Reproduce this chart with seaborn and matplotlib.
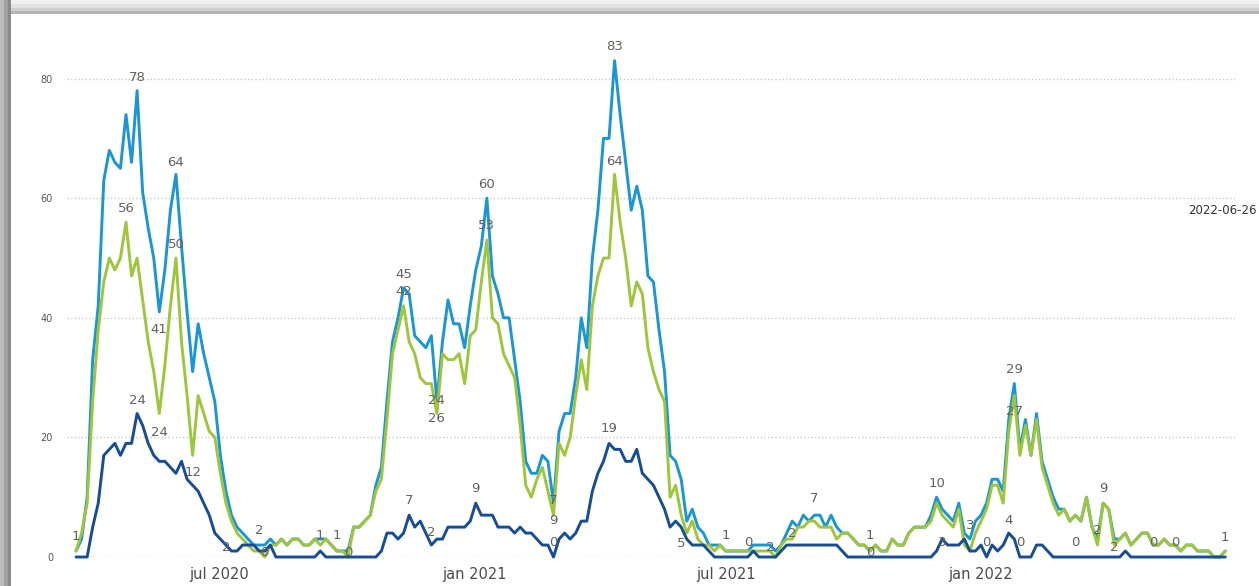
import pandas as pd
import matplotlib.pyplot as plt
import seaborn as sns
from matplotlib.patches import Rectangle

# one value every 4 days, 2020-03-20 .. 2022-06-26
START = "2020-03-20"
STEP = "4D"

LIGHT_BLUE = [
    1, 3, 10, 33, 42, 63, 68, 66, 65, 74,
    66, 78, 61, 55, 50, 41, 48, 58, 64, 52,
    41, 31, 39, 34, 30, 26, 17, 11, 7, 5,
    4, 3, 2, 2, 2, 3, 2, 3, 2, 3,
    3, 2, 2, 3, 3, 3, 2, 1, 1, 1,
    5, 5, 6, 7, 12, 15, 26, 36, 40, 45,
    44, 37, 36, 35, 37, 26, 36, 43, 39, 39,
    35, 42, 48, 52, 60, 47, 44, 40, 40, 33,
    26, 16, 14, 14, 17, 16, 9, 21, 24, 24,
    30, 40, 35, 50, 58, 70, 70, 83, 74, 66,
    58, 62, 58, 47, 46, 38, 31, 17, 16, 13,
    6, 8, 5, 4, 2, 2, 2, 1, 1, 1,
    1, 1, 2, 2, 2, 2, 1, 2, 4, 6,
    5, 7, 6, 7, 7, 5, 7, 5, 4, 4,
    3, 2, 2, 1, 2, 1, 1, 3, 2, 2,
    4, 5, 5, 5, 7, 10, 8, 7, 6, 9,
    4, 3, 6, 7, 9, 13, 13, 11, 23, 29,
    18, 23, 17, 24, 16, 13, 10, 8, 8, 6,
    7, 6, 10, 5, 3, 9, 8, 3, 3, 4,
    2, 3, 4, 4, 2, 2, 3, 2, 2, 1,
    2, 2, 1, 1, 1, 0, 0, 1,
]

GREEN = [
    1, 4, 9, 26, 38, 46, 50, 48, 50, 56,
    47, 50, 43, 36, 31, 24, 32, 42, 50, 36,
    27, 17, 27, 24, 21, 20, 14, 9, 6, 4,
    3, 2, 1, 1, 0, 2, 2, 3, 2, 3,
    3, 2, 2, 3, 2, 3, 2, 1, 1, 0,
    5, 5, 6, 7, 11, 13, 23, 34, 38, 42,
    36, 34, 30, 29, 29, 24, 34, 33, 33, 34,
    29, 37, 38, 46, 53, 40, 39, 34, 32, 30,
    22, 12, 10, 13, 15, 11, 7, 19, 17, 20,
    27, 33, 28, 42, 47, 50, 50, 64, 56, 50,
    42, 46, 44, 35, 31, 28, 26, 10, 12, 7,
    4, 6, 3, 2, 2, 1, 2, 1, 1, 1,
    1, 1, 1, 1, 1, 1, 0, 2, 3, 3,
    5, 5, 6, 6, 5, 5, 5, 3, 4, 4,
    3, 2, 2, 1, 2, 1, 1, 3, 2, 2,
    4, 5, 5, 5, 6, 9, 7, 6, 5, 8,
    2, 1, 4, 6, 8, 12, 12, 9, 21, 27,
    17, 22, 17, 23, 15, 12, 9, 7, 8, 6,
    7, 6, 10, 5, 2, 9, 8, 2, 3, 4,
    2, 3, 4, 4, 2, 2, 3, 2, 2, 1,
    2, 2, 1, 1, 1, 0, 0, 1,
]

DARK_BLUE = [
    0, 0, 0, 5, 9, 17, 18, 19, 17, 19,
    19, 24, 22, 19, 17, 16, 16, 15, 14, 16,
    13, 12, 11, 9, 7, 4, 3, 2, 1, 1,
    2, 2, 2, 1, 1, 2, 0, 0, 0, 0,
    0, 0, 0, 0, 1, 0, 0, 0, 0, 0,
    0, 0, 0, 0, 0, 1, 4, 4, 3, 4,
    7, 5, 6, 4, 2, 3, 3, 5, 5, 5,
    5, 6, 9, 7, 7, 7, 5, 5, 5, 4,
    5, 4, 4, 3, 2, 2, 0, 3, 4, 3,
    4, 6, 6, 11, 14, 16, 19, 18, 18, 16,
    16, 18, 14, 13, 12, 10, 8, 5, 6, 5,
    3, 2, 2, 2, 1, 0, 0, 0, 0, 0,
    0, 0, 1, 0, 0, 0, 0, 1, 2, 2,
    2, 2, 2, 2, 2, 2, 2, 2, 1, 0,
    0, 0, 0, 0, 0, 0, 0, 0, 0, 0,
    0, 0, 0, 0, 0, 1, 3, 2, 2, 2,
    3, 1, 1, 2, 0, 2, 1, 2, 4, 3,
    0, 0, 0, 2, 2, 1, 0, 0, 0, 0,
    0, 0, 0, 0, 0, 0, 0, 0, 0, 1,
    0, 0, 0, 0, 0, 0, 0, 0, 0, 0,
    0, 0, 0, 0, 0, 0, 0, 0,
]

SERIES = {"serie 1": LIGHT_BLUE, "serie 2": GREEN, "serie 3": DARK_BLUE}
CORES = {"serie 1": "#1A96D6", "serie 2": "#9DC63B", "serie 3": "#174C98"}

TICK_DATES = ["2020-07-01", "2021-01-01", "2021-07-01", "2022-01-01"]
TICK_LABELS = ["jul 2020", "jan 2021", "jul 2021", "jan 2022"]
LAST_DATE_TEXT = "2022-06-26"

# data labels: (series, point index, vertical offset in px)
LABELS = [
    ("serie 2", 0, 15), ("serie 1", 11, 13), ("serie 2", 9, 14), ("serie 1", 18, 12),
    ("serie 2", 18, 14), ("serie 1", 15, -18), ("serie 3", 11, 13), ("serie 2", 15, -19),
    ("serie 3", 21, 13), ("serie 1", 33, 15), ("serie 3", 27, -2), ("serie 2", 34, 4),
    ("serie 3", 44, 16), ("serie 2", 47, 16), ("serie 2", 49, 5), ("serie 1", 59, 13),
    ("serie 2", 59, 14), ("serie 3", 60, 15), ("serie 3", 64, 13), ("serie 2", 65, 13),
    ("serie 1", 65, -17), ("serie 1", 74, 14), ("serie 2", 74, 15), ("serie 3", 72, 15),
    ("serie 2", 86, 15), ("serie 1", 86, -17), ("serie 3", 86, 15), ("serie 3", 96, 15),
    ("serie 1", 97, 14), ("serie 2", 97, 13), ("serie 3", 109, -16), ("serie 2", 117, 16),
    ("serie 3", 121, 14), ("serie 1", 125, -2), ("serie 3", 129, 12), ("serie 1", 133, 17),
    ("serie 2", 143, 16), ("serie 3", 143, 5), ("serie 1", 155, 14), ("serie 3", 156, -3),
    ("serie 1", 161, 14), ("serie 3", 164, 15), ("serie 3", 168, 13), ("serie 1", 169, 14),
    ("serie 2", 169, -16), ("serie 3", 170, 15), ("serie 3", 180, 15), ("serie 2", 185, 15),
    ("serie 2", 184, 15), ("serie 2", 187, -2), ("serie 3", 194, 15), ("serie 3", 198, 15),
    ("serie 2", 207, 14),
]

datas = pd.date_range(START, periods=len(LIGHT_BLUE), freq=STEP)
df = pd.concat(
    [pd.DataFrame({"data": datas, "valor": v, "serie": k}) for k, v in SERIES.items()],
    ignore_index=True,
)

W, H = 1259, 586
sns.set_style("white")
plt.rcParams["font.family"] = ["DejaVu Sans"]
fig = plt.figure(figsize=(W / 100, H / 100), dpi=100)

# moldura com sombra (estilo cartao)
def px_rect(x, y, w, h, cor):
    return Rectangle((x / W, 1 - (y + h) / H), w / W, h / H, transform=fig.transFigure,
                     facecolor=cor, edgecolor="none", zorder=-10)

for y0, cor in [(0, "#f0f0f0"), (4, "#e2e2e2"), (8, "#cfcfcf"), (11, "#b5b5b5")]:
    fig.patches.append(px_rect(0, y0, W, 4 if y0 < 11 else 3, cor))
for x0, cor in [(0, "#bdbdbd"), (4, "#a2a2a2"), (8, "#8a8a8a")]:
    fig.patches.append(px_rect(x0, 0, 4 if x0 < 8 else 3, H, cor))

ax = fig.add_axes([67 / W, 29 / H, 1168 / W, 526.2 / H])
ax.set_facecolor("none")

sns.lineplot(data=df, x="data", y="valor", hue="serie", palette=CORES,
             hue_order=list(SERIES), linewidth=2.1, legend=False, ax=ax)
for ln in ax.get_lines():
    ln.set_clip_on(False)

inicio = pd.Timestamp(START)
ax.set_xlim(inicio - pd.Timedelta(days=6.5), inicio + pd.Timedelta(days=835))
ax.set_ylim(0, 88)
ax.set_yticks([0, 20, 40, 60, 80])
ax.set_xticks(pd.to_datetime(TICK_DATES))
ax.set_xticklabels(TICK_LABELS)
ax.tick_params(axis="x", length=0, pad=7, labelsize=10.5, labelcolor="#4f4b48")
ax.tick_params(axis="y", length=0, pad=10, labelsize=7, labelcolor="#5e544c")
ax.grid(axis="y", color="#c9c9c9", linewidth=1.0, linestyle=(0, (1, 1.6)))
ax.grid(axis="x", visible=False)
ax.set_xlabel("")
ax.set_ylabel("")
sns.despine(ax=ax, left=True, bottom=True)

for serie, i, dy in LABELS:
    v = SERIES[serie][i]
    ax.annotate(str(v), (datas[i], v), xytext=(0, dy), textcoords="offset pixels",
                ha="center", va="center", fontsize=9.5, color="#66605b",
                annotation_clip=False)

fig.text(1188 / W, 1 - 210 / H, LAST_DATE_TEXT, ha="left", va="center",
         fontsize=8.5, color="#333333")

fig.savefig("out.png", dpi=100)
plt.close()
